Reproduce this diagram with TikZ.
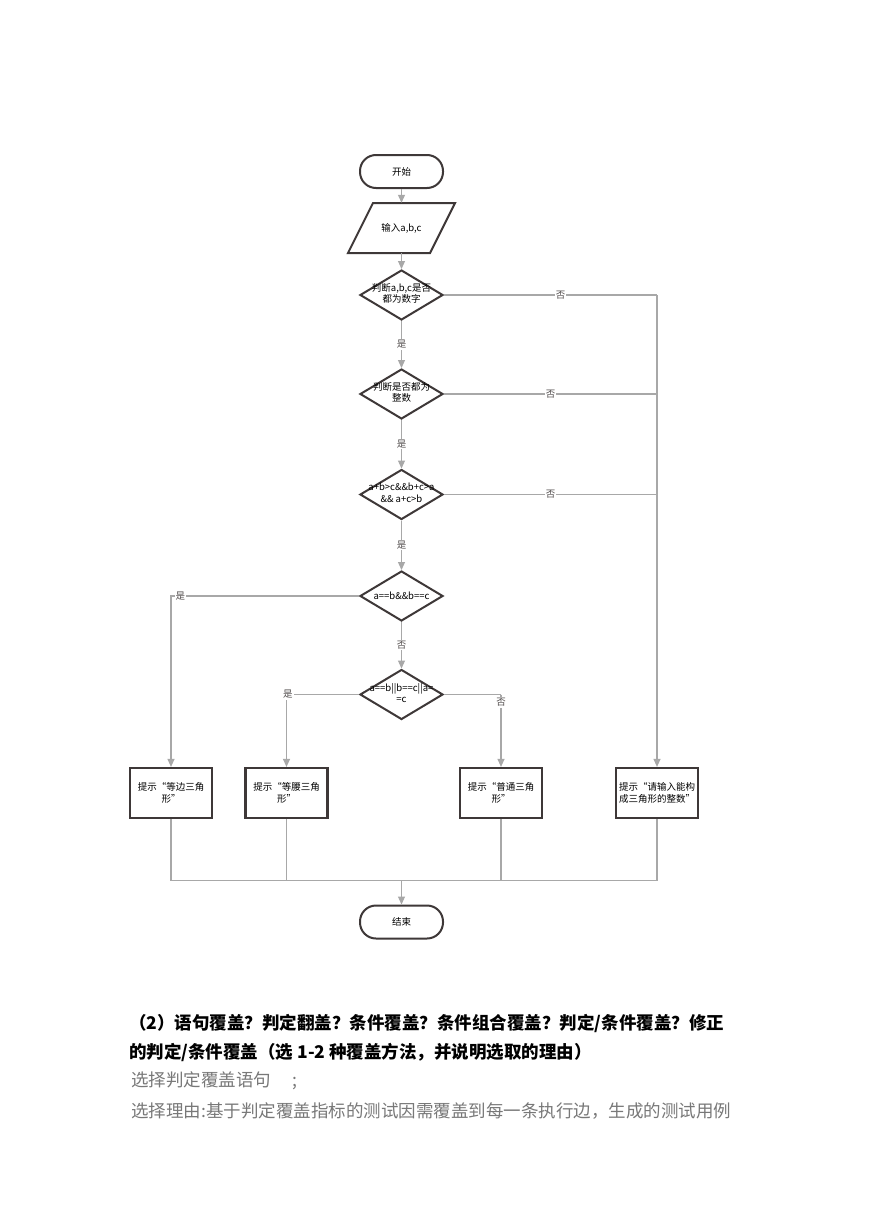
\documentclass[tikz,border=0pt]{standalone}
\usepackage{fontspec}
\setmainfont{Noto Sans CJK SC}
\usetikzlibrary{shapes.geometric,arrows.meta}
\definecolor{dark}{RGB}{62,56,56}
\definecolor{lgray}{RGB}{168,168,168}
\definecolor{tgray}{RGB}{120,120,120}
\tikzset{
  dfont/.style={font=\fontsize{9.5}{11.5}\selectfont},
  term/.style={draw=dark, line width=2pt, rounded corners=16pt, minimum width=83pt, minimum height=33pt, dfont},
  dia/.style={diamond, draw=dark, line width=2pt, minimum width=83pt, minimum height=50pt, inner sep=0pt},
  dtext/.style={align=center, dfont, inner sep=0pt},
  stepbox/.style={draw=dark, line width=2.2pt, minimum width=82pt, minimum height=50pt, align=center, dfont},
  conn/.style={draw=lgray, line width=1.1pt},
  arr/.style={conn, -{Triangle[length=8pt,width=7pt]}, shorten >=0pt},
  lbl/.style={fill=white, inner sep=1pt, dfont, text=dark!90},
}
\begin{document}
\begin{tikzpicture}[x=1pt,y=-1pt]
\useasboundingbox[fill=white] (0,0) rectangle (869,1228);

% shapes
\node[term] (start) at (401.5,171.5) {开始};
\node[minimum width=82pt, minimum height=50pt, inner sep=0pt] (inp) at (401.5,228) {};
\draw[dark, line width=2pt, line join=miter] (348,253) -- (373,203) -- (455,203) -- (430,253) -- cycle;
\node[dtext] (inptext) at (401.5,228.5) {输入a,b,c};

\node[dia] (d1) at (401.5,295) {};
\node[dtext] (t1) at (401.5,293.5) {判断a,b,c是否\\都为数字};
\node[dia] (d2) at (401.5,394) {};
\node[dtext] (t2) at (401.5,392.5) {判断是否都为\\整数};
\node[dia] (d3) at (401.5,494.5) {};
\node[dtext] (t3) at (401.5,493) {a+b>c\&\&b+c>a\\\&\& a+c>b};
\node[dia] (d4) at (401.5,596) {};
\node[dtext] (t4) at (401.5,596) {a==b\&\&b==c};
\node[dia] (d5) at (401.5,694.5) {};
\node[dtext] (t5) at (401.5,693) {a==b||b==c||a=\\=c};

\node[stepbox] (b1) at (171,793) {提示“等边三角\\形”};
\node[stepbox] (b2) at (286.5,793) {提示“等腰三角\\形”};
\node[stepbox] (b3) at (501,793) {提示“普通三角\\形”};
\node[stepbox] (b4) at (657,793) {提示“请输入能构\\成三角形的整数”};

\node[term] (end) at (401.5,922) {结束};

% connectors
\coordinate (r1) at (657,295);
\coordinate (r2) at (657,394);
\coordinate (r3) at (657,494.5);
\coordinate (c4) at (171,596);
\coordinate (c5l) at (286.5,694.5);
\coordinate (c5r) at (501,694.5);
\coordinate (mL) at (171,880.5);
\coordinate (mR) at (657,880.5);

\draw[arr] (start) -- (inp);
\draw[arr] (inp) -- (d1);
\draw[arr] (d1.south) -- node[lbl]{是} (d2.north);
\draw[arr] (d2.south) -- node[lbl]{是} (d3.north);
\draw[arr] (d3.south) -- node[lbl]{是} (d4.north);
\draw[arr] (d4.south) -- node[lbl]{否} (d5.north);

\draw[conn] (d1.east) -- node[lbl,pos=0.547]{否} (r1);
\draw[arr] (r1) -- (b4.north);
\draw[conn] (d2.east) -- node[lbl,pos=0.5]{否} (r2);
\draw[conn] (d3.east) -- node[lbl,pos=0.5]{否} (r3);

\draw[arr] (d4.west) -- node[lbl,pos=0.95]{是} (c4) -- (b1.north);
\draw[arr] (d5.west) -- node[lbl,pos=0.98]{是} (c5l) -- (b2.north);
\draw[conn] (d5.east) -- (c5r);
\draw[arr] (c5r) -- node[lbl,pos=0.11]{否} (b3.north);

\draw[conn] (b1.south) -- (mL) -- (mR) -- (b4.south);
\draw[conn] (b2.south) -- (b2.south |- mL);
\draw[conn] (b3.south) -- (b3.south |- mL);
\draw[arr] (end.north |- mL) -- (end.north);

% text below
\node[anchor=west, inner sep=0pt, font=\fontsize{17.5}{20}\selectfont\bfseries] (p1) at (129,1023) {（2）语句覆盖？判定翻盖？条件覆盖？条件组合覆盖？判定/条件覆盖？修正};
\node[anchor=west, inner sep=0pt, font=\fontsize{17.5}{20}\selectfont\bfseries] (p2) at (129,1052) {的判定/条件覆盖（选 1-2 种覆盖方法，并说明选取的理由）};
\node[anchor=west, inner sep=0pt, font=\fontsize{17.5}{20}\selectfont, text=tgray] (p3) at (131,1081) {选择判定覆盖语句\hspace{1.2em};};
\node[anchor=west, inner sep=0pt, font=\fontsize{17.5}{20}\selectfont, text=tgray] (p4) at (131,1111) {选择理由:基于判定覆盖指标的测试因需覆盖到每一条执行边，生成的测试用例};
\end{tikzpicture}
\end{document}
